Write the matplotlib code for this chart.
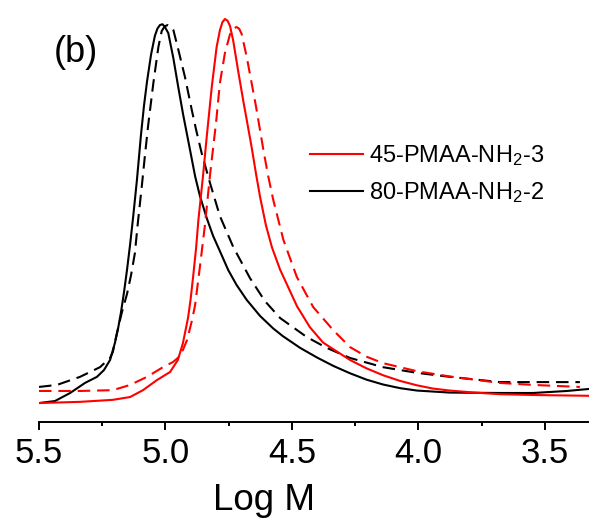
import matplotlib
matplotlib.use("Agg")
import matplotlib.pyplot as plt
from matplotlib.lines import Line2D

plt.rcParams['font.family'] = ['Liberation Sans', 'DejaVu Sans']
plt.rcParams['mathtext.fontset'] = 'custom'
plt.rcParams['mathtext.rm'] = 'Liberation Sans'
plt.rcParams['mathtext.default'] = 'regular'

# ---- data (Log M vs normalised intensity) ----
# 80-PMAA-NH2-2, solid
bs_logm = [5.500, 5.437, 5.377, 5.318, 5.271, 5.243, 5.219, 5.200, 5.188, 5.176,
           5.164, 5.152, 5.140, 5.128, 5.113, 5.097, 5.085, 5.073, 5.057, 5.042,
           5.032, 5.022, 5.012, 5.002, 4.989, 4.969, 4.949, 4.930, 4.903, 4.883,
           4.864, 4.837, 4.812, 4.785, 4.752, 4.719, 4.679, 4.626, 4.574, 4.536,
           4.468, 4.401, 4.336, 4.271, 4.205, 4.140, 4.073, 4.006, 3.876, 3.678,
           3.547, 3.413, 3.326]
bs_int = [0.047, 0.052, 0.072, 0.097, 0.112, 0.129, 0.154, 0.196, 0.230, 0.272,
          0.322, 0.378, 0.440, 0.508, 0.600, 0.712, 0.785, 0.845, 0.912, 0.958,
          0.976, 0.985, 0.987, 0.980, 0.965, 0.903, 0.829, 0.762, 0.675, 0.610,
          0.561, 0.506, 0.462, 0.424, 0.377, 0.340, 0.303, 0.263, 0.232, 0.213,
          0.184, 0.160, 0.139, 0.121, 0.105, 0.093, 0.084, 0.078, 0.073, 0.072,
          0.072, 0.077, 0.082]

# 80-PMAA-NH2-2, dashed
bd_logm = [5.500, 5.429, 5.338, 5.259, 5.219, 5.208, 5.192, 5.172, 5.152, 5.136,
           5.121, 5.109, 5.094, 5.081, 5.068, 5.048, 5.028, 5.015, 5.003, 4.991,
           4.980, 4.969, 4.949, 4.923, 4.896, 4.879, 4.857, 4.824, 4.785, 4.732,
           4.666, 4.607, 4.547, 4.442, 4.363, 4.271, 4.140, 4.006, 3.876, 3.678,
           3.547, 3.362]
bd_int = [0.087, 0.092, 0.112, 0.136, 0.159, 0.174, 0.221, 0.273, 0.318, 0.365,
          0.419, 0.496, 0.583, 0.663, 0.739, 0.841, 0.931, 0.970, 0.982, 0.985,
          0.982, 0.973, 0.923, 0.856, 0.774, 0.725, 0.667, 0.593, 0.511, 0.434,
          0.357, 0.300, 0.258, 0.211, 0.184, 0.159, 0.136, 0.122, 0.112, 0.099,
          0.099, 0.099]

# 45-PMAA-NH2-3, solid
rs_logm = [5.500, 5.338, 5.208, 5.140, 5.089, 5.034, 4.982, 4.951, 4.931, 4.911,
           4.901, 4.890, 4.879, 4.870, 4.851, 4.837, 4.817, 4.798, 4.785, 4.775,
           4.765, 4.755, 4.745, 4.732, 4.712, 4.692, 4.679, 4.659, 4.642, 4.626,
           4.603, 4.579, 4.547, 4.480, 4.429, 4.377, 4.271, 4.205, 4.140, 4.073,
           4.006, 3.943, 3.876, 3.778, 3.678, 3.547, 3.326]
rs_int = [0.047, 0.050, 0.055, 0.062, 0.079, 0.104, 0.124, 0.154, 0.196, 0.258,
          0.303, 0.365, 0.432, 0.501, 0.615, 0.708, 0.832, 0.930, 0.972, 0.992,
          1.000, 0.996, 0.983, 0.945, 0.868, 0.795, 0.750, 0.680, 0.615, 0.558,
          0.488, 0.433, 0.378, 0.287, 0.235, 0.197, 0.154, 0.133, 0.116, 0.102,
          0.091, 0.083, 0.078, 0.073, 0.069, 0.067, 0.065]

# 45-PMAA-NH2-3, dashed
rd_logm = [5.500, 5.338, 5.208, 5.140, 5.073, 5.010, 4.970, 4.951, 4.931, 4.915,
           4.895, 4.883, 4.864, 4.844, 4.824, 4.800, 4.785, 4.765, 4.745, 4.730,
           4.719, 4.709, 4.699, 4.679, 4.658, 4.642, 4.613, 4.595, 4.574, 4.534,
           4.481, 4.416, 4.337, 4.271, 4.205, 4.140, 4.006, 3.876, 3.678, 3.547,
           3.362]
rd_int = [0.077, 0.077, 0.079, 0.092, 0.112, 0.136, 0.149, 0.159, 0.179, 0.203,
          0.253, 0.290, 0.385, 0.489, 0.613, 0.744, 0.841, 0.916, 0.962, 0.977,
          0.980, 0.976, 0.963, 0.906, 0.836, 0.782, 0.675, 0.613, 0.551, 0.452,
          0.360, 0.285, 0.228, 0.186, 0.162, 0.146, 0.126, 0.113, 0.097, 0.092,
          0.087]

legend_labels = ['45-PMAA-NH$_2$-3', '80-PMAA-NH$_2$-2']
xticks = [5.5, 5.0, 4.5, 4.0, 3.5]
xtick_labels = ['5.5', '5.0', '4.5', '4.0', '3.5']
minor_xticks = [5.25, 4.75, 4.25, 3.75]

RED = '#ff0000'
BLACK = '#000000'
LW = 1.5
DASH = (0, (6, 3.3))

fig = plt.figure(figsize=(5.89, 5.18), dpi=100)
ax = fig.add_axes([39 / 589, (518 - 422) / 518, 550 / 589, 422 / 518])

common = dict(lw=LW, solid_joinstyle='round', dash_joinstyle='round')
ax.plot(bs_logm, bs_int, color=BLACK, **common)
ax.plot(bd_logm, bd_int, color=BLACK, linestyle=DASH, **common)
ax.plot(rs_logm, rs_int, color=RED, **common)
ax.plot(rd_logm, rd_int, color=RED, linestyle=DASH, **common)

ax.set_xlim(5.5, 3.326)
ax.set_ylim(0, 422 / 403)

for s in ['left', 'top', 'right']:
    ax.spines[s].set_visible(False)
ax.spines['bottom'].set_linewidth(1.4)
ax.set_yticks([])
ax.set_xticks(xticks)
ax.set_xticklabels(xtick_labels)
ax.set_xticks(minor_xticks, minor=True)
ax.tick_params(axis='x', which='major', direction='out', length=5.8, width=1.4,
               labelsize=25, pad=5)
ax.tick_params(axis='x', which='minor', direction='out', length=2.6, width=1.4)

ax.set_xlabel('Log M', fontsize=26.5)
ax.xaxis.set_label_coords((264 - 39) / 550, -0.145)

ax.text(76 / 589, 1 - 53 / 518, '(b)', transform=fig.transFigure, fontsize=26,
        ha='center', va='center')

handles = [Line2D([], [], color=RED, lw=LW), Line2D([], [], color=BLACK, lw=LW)]
leg = ax.legend(handles, legend_labels, loc='upper left', frameon=False, fontsize=17,
                bbox_to_anchor=((300.6 - 39) / 550, 1 - 134 / 422),
                handlelength=2.25, handletextpad=0.25, labelspacing=0.5,
                borderaxespad=0, borderpad=0.4)

fig.savefig('out.png', dpi=100)
